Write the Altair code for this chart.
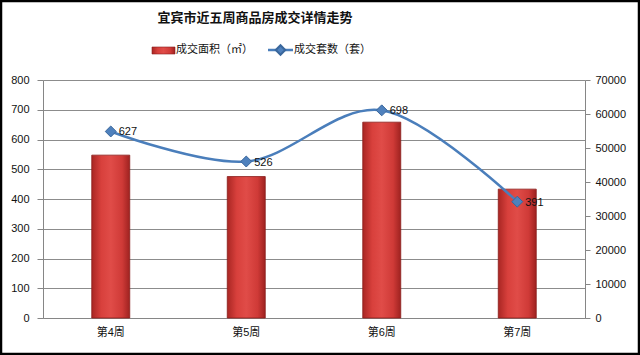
import altair as alt
import pandas as pd

weeks = ["第4周", "第5周", "第6周", "第7周"]
area_values = [47900, 41600, 57600, 37900]   # 成交面积（㎡）, right axis
count_values = [627, 526, 698, 391]          # 成交套数（套）, left axis

title_text = "宜宾市近五周商品房成交详情走势"
legend_bar = "成交面积（㎡）"
legend_line = "成交套数（套）"

left_ticks = [0, 100, 200, 300, 400, 500, 600, 700, 800]
right_ticks = [0, 10000, 20000, 30000, 40000, 50000, 60000, 70000]

df = pd.DataFrame({"week": weeks, "area": area_values, "count": count_values})
one = pd.DataFrame({"k": [0]})

FONT = "Liberation Sans, Noto Sans CJK SC, sans-serif"
W, H = 542, 238

x_axis = alt.Axis(labelAngle=0, ticks=False, labelPadding=8,
                  domainColor="#868686", labelFontSize=11,
                  labelColor="#111", labelFont=FONT, grid=False)
x_enc = alt.X("week:N", sort=weeks, title=None,
              scale=alt.Scale(paddingInner=0, paddingOuter=0), axis=x_axis)

grad = alt.Gradient(gradient="linear", x1=0, x2=1, y1=0, y2=0, stops=[
    alt.GradientStop(color="#a92623", offset=0),
    alt.GradientStop(color="#d8403c", offset=0.25),
    alt.GradientStop(color="#e04c48", offset=0.5),
    alt.GradientStop(color="#cf3a37", offset=0.8),
    alt.GradientStop(color="#9e2220", offset=1),
])

bars = alt.Chart(df).mark_bar(size=38, fill=grad, stroke="#8a1d1b", strokeWidth=0.8).encode(
    x=x_enc,
    y=alt.Y("area:Q", title=None,
            scale=alt.Scale(domain=[0, 70000], nice=False),
            axis=alt.Axis(orient="right", values=right_ticks, grid=False,
                          tickSize=5, tickColor="#868686", domainColor="#868686",
                          labelPadding=5, labelFontSize=11, labelColor="#111",
                          labelFont=FONT, format="d")),
)

grid_axis = alt.Axis(orient="left", values=left_ticks, grid=True, gridColor="#8c8c8c",
                     gridWidth=1, tickSize=6, tickColor="#868686", domainColor="#868686",
                     labelPadding=8, labelFontSize=11, labelColor="#111", labelFont=FONT)
yscale = alt.Scale(domain=[0, 800], nice=False)
y_left = alt.Y("count:Q", title=None, scale=yscale, axis=grid_axis)

line = alt.Chart(df).mark_line(color="#4a7ebb", strokeWidth=2.5, interpolate="cardinal").encode(
    x=x_enc, y=y_left)
pts = alt.Chart(df).mark_point(shape="diamond", size=120, filled=True, fill="#4f81bd",
                               stroke="#3a679c", strokeWidth=1, opacity=1).encode(
    x=x_enc, y=y_left)
labels = alt.Chart(df).mark_text(align="left", dx=8, dy=1, fontSize=11, color="#111", font=FONT).encode(
    x=x_enc, y=y_left, text="count:Q")

# title & manual legend (positions relative to plot origin at 43,80)
title = alt.Chart(one).mark_text(text=title_text, fontSize=13, fontWeight="bold",
                                 font=FONT, color="#111").encode(
    x=alt.value(255 - 43), y=alt.value(18 - 80))
leg_rect = alt.Chart(one).mark_rect(fill=grad, stroke="#8a1d1b", strokeWidth=0.6).encode(
    x=alt.value(152 - 43), x2=alt.value(175 - 43), y=alt.value(47 - 80), y2=alt.value(54 - 80))
leg_t1 = alt.Chart(one).mark_text(text=legend_bar, align="left", fontSize=11, font=FONT, color="#111").encode(
    x=alt.value(176 - 43), y=alt.value(50 - 80))
leg_line = alt.Chart(one).mark_rule(color="#4a7ebb", strokeWidth=2.5).encode(
    x=alt.value(268 - 43), x2=alt.value(293 - 43), y=alt.value(50 - 80))
leg_pt = alt.Chart(one).mark_point(shape="diamond", size=90, filled=True, fill="#4f81bd",
                                   stroke="#3a679c", opacity=1).encode(
    x=alt.value(280.5 - 43), y=alt.value(50 - 80))
leg_t2 = alt.Chart(one).mark_text(text=legend_line, align="left", fontSize=11, font=FONT, color="#111").encode(
    x=alt.value(294 - 43), y=alt.value(50 - 80))
frame = alt.Chart(one).mark_rect(fill=None, stroke="#000", strokeWidth=2.5).encode(
    x=alt.value(-43 + 1), x2=alt.value(640 - 43 - 1), y=alt.value(-80 + 1), y2=alt.value(355 - 80 - 1))

line_group = alt.layer(line, pts, labels, title, leg_rect, leg_t1, leg_line, leg_pt, leg_t2, frame)

chart = alt.layer(bars, line_group).resolve_scale(y="independent").properties(
    width=W, height=H,
    padding={"left": 43, "top": 80, "right": 55, "bottom": 37},
    autosize=alt.AutoSizeParams(type="none"),
    background="white",
).configure_view(stroke=None)

chart.save("out.html", embed_options={"renderer": "svg", "actions": False})
